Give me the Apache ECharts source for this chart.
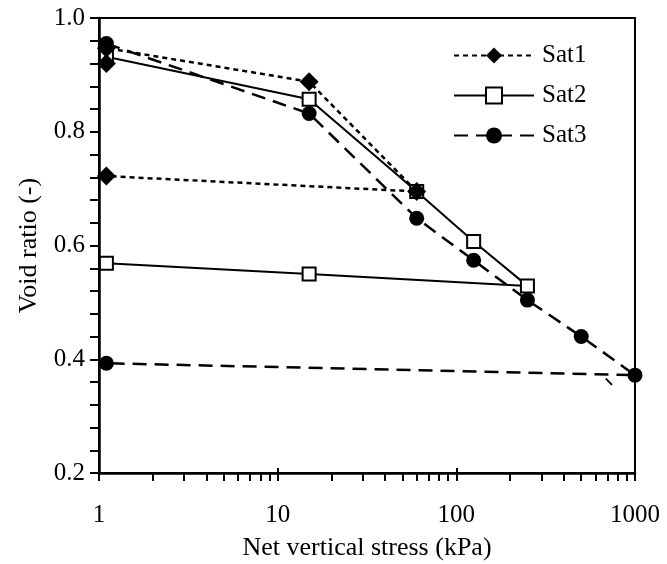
<!DOCTYPE html>
<html>
<head>
<meta charset="utf-8">
<script src="https://cdn.jsdelivr.net/npm/echarts@6/dist/echarts.min.js"></script>
<style>
  html, body { margin: 0; padding: 0; background: #fff; }
  #chart { width: 667px; height: 564px; }
</style>
</head>
<body>
<div id="chart"></div>
<script>
// Net vertical stress (kPa) and void ratio for each specimen
const sat1Stress = [1.1, 1.1, 15, 60, 1.1];
const sat1Void   = [0.920, 0.947, 0.888, 0.695, 0.722];

const sat2Stress = [1.1, 15, 60, 125, 250, 15, 1.1];
const sat2Void   = [0.932, 0.857, 0.695, 0.607, 0.529, 0.550, 0.569];

const sat3Stress = [1.1, 15, 60, 125, 250, 500, 1000, 1.1];
const sat3Void   = [0.955, 0.832, 0.648, 0.574, 0.504, 0.440, 0.372, 0.393];

// short stray trace next to the 1000 kPa point
const sat3TailStress = [687, 743];
const sat3TailVoid   = [0.366, 0.355];

const xLabels = [1, 10, 100, 1000];
const xMinor = [];
[1, 10, 100].forEach(function (d) {
  for (let k = 1; k <= 9; k++) xMinor.push(d * k);
});
xMinor.push(1000);

function pairs(xs, ys) { return xs.map(function (x, i) { return [x, ys[i]]; }); }

const FONT = '"Liberation Serif", "Times New Roman", serif';

const chart = echarts.init(document.getElementById('chart'), null, { renderer: 'canvas' });

chart.setOption({
  animation: false,
  backgroundColor: '#fff',
  textStyle: { fontFamily: FONT, color: '#000' },
  grid: {
    left: 99, right: 32, top: 18, bottom: 91,
    outerBoundsMode: 'none', containLabel: false,
    show: true, borderColor: '#000', borderWidth: 2, backgroundColor: 'transparent'
  },
  legend: {
    orient: 'vertical',
    left: 448, top: 38,
    itemWidth: 80, itemHeight: 20, itemGap: 15,
    data: ['Sat1', 'Sat2', 'Sat3'],
    textStyle: { fontFamily: FONT, fontSize: 25, color: '#000', padding: [0, 0, 0, 3] }
  },
  xAxis: [{
    type: 'log', logBase: 10, min: 1, max: 1000,
    name: 'Net vertical stress (kPa)', nameLocation: 'middle', nameGap: 62,
    nameTextStyle: { fontFamily: FONT, fontSize: 26, color: '#000' },
    axisLine: { show: true, onZero: false, lineStyle: { color: '#000', width: 2.5 } },
    axisTick: { show: true, inside: false, length: 8, customValues: xMinor, lineStyle: { color: '#000', width: 2 } },
    axisLabel: { show: true, customValues: xLabels, margin: 30, fontFamily: FONT, fontSize: 25, color: '#000',
      formatter: function (v) { return String(Math.round(v)); } },
    splitLine: { show: false }
  }, {
    type: 'log', logBase: 10, min: 1, max: 1000, position: 'bottom',
    axisLine: { show: false },
    axisTick: { show: true, inside: true, length: 5, customValues: xLabels, lineStyle: { color: '#000', width: 2 } },
    axisLabel: { show: false },
    splitLine: { show: false }
  }],
  yAxis: {
    type: 'value', min: 0.2, max: 1.0, interval: 0.2,
    name: 'Void ratio (-)', nameLocation: 'middle', nameGap: 57, nameRotate: 90,
    nameTextStyle: { fontFamily: FONT, fontSize: 26, color: '#000' },
    axisLine: { show: true, onZero: false, lineStyle: { color: '#000', width: 2.5 } },
    axisTick: { show: true, inside: false, length: 9, lineStyle: { color: '#000', width: 2 } },
    minorTick: { show: true, splitNumber: 5, length: 9, lineStyle: { color: '#000', width: 2 } },
    axisLabel: { margin: 14, fontFamily: FONT, fontSize: 25, color: '#000',
      formatter: function (v) { return v.toFixed(1); } },
    splitLine: { show: false }
  },
  series: [
    {
      name: 'Sat2', type: 'line', xAxisIndex: 0, z: 2,
      data: pairs(sat2Stress, sat2Void),
      symbol: 'rect', symbolSize: 13,
      itemStyle: { color: '#fff', borderColor: '#000', borderWidth: 2 },
      lineStyle: { color: '#000', width: 2, type: 'solid' }
    },
    {
      name: 'Sat1', type: 'line', xAxisIndex: 0, z: 3,
      data: pairs(sat1Stress, sat1Void),
      symbol: 'diamond', symbolSize: 19,
      itemStyle: { color: '#000', borderWidth: 0 },
      lineStyle: { color: '#000', width: 2.5, type: [5, 4] }
    },
    {
      name: 'Sat3', type: 'line', xAxisIndex: 0, z: 4,
      data: pairs(sat3Stress, sat3Void),
      symbol: 'circle', symbolSize: 15,
      itemStyle: { color: '#000', borderWidth: 0 },
      lineStyle: { color: '#000', width: 2.5, type: [14, 8] }
    },
    {
      name: 'Sat3 tail', type: 'line', xAxisIndex: 0, z: 4,
      data: pairs(sat3TailStress, sat3TailVoid),
      symbol: 'none',
      lineStyle: { color: '#000', width: 2, type: 'solid' }
    }
  ]
});
</script>
</body>
</html>
